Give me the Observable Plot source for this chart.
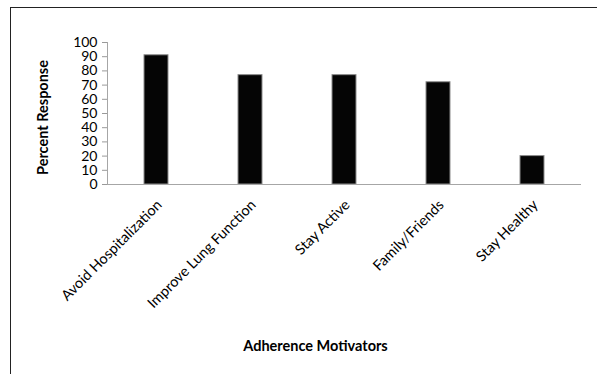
<!DOCTYPE html>
<html>
<head>
<meta charset="utf-8">
<script src="https://cdn.jsdelivr.net/npm/d3@7"></script>
<script src="https://cdn.jsdelivr.net/npm/@observablehq/plot@0.6"></script>
<style>
  html, body { margin: 0; padding: 0; background: #fff; overflow: hidden; }
  #wrap { position: relative; width: 597px; height: 374px; }
  #border {
    position: absolute; left: 10px; top: 7px; width: 620px; height: 400px;
    border-left: 1.5px solid #222; border-top: 1.5px solid #222;
    box-sizing: border-box; pointer-events: none;
  }
  #chart { position: absolute; left: 0; top: 0; }
</style>
</head>
<body>
<div id="wrap">
  <div id="chart"></div>
  <div id="border"></div>
</div>
<script>
// Adherence motivators and the share of respondents citing each
const motivators = ["Avoid Hospitalization", "Improve Lung Function", "Stay Active", "Family/Friends", "Stay Healthy"];
const percents = [91, 77, 77, 72, 20];
const yTicks = [0, 10, 20, 30, 40, 50, 60, 70, 80, 90, 100];

const rows = motivators.map((m, i) => ({motivator: m, percent: percents[i]}));

const font = "Lato, 'Open Sans', sans-serif";

const chart = Plot.plot({
  width: 597,
  height: 374,
  marginLeft: 107,
  marginRight: 16,
  marginTop: 42,
  marginBottom: 190,
  style: {fontFamily: font, fontSize: "14px", color: "#000", background: "transparent"},
  x: {domain: motivators, paddingInner: 0.75, paddingOuter: 0.375, label: null},
  y: {domain: [0, 100], label: null},
  marks: [
    Plot.axisY({ticks: yTicks, tickSize: 5, tickPadding: 5, stroke: "#999", fill: "#000", label: null, tickFormat: d => String(d)}),
    Plot.axisX({tickSize: 0, tickRotate: -45, tickPadding: 18, dx: 3, fontSize: 14.5, fill: "#000", label: null}),
    Plot.frame({anchor: "left", stroke: "#a6a6a6"}),
    Plot.barY(rows, {x: "motivator", y: "percent", fill: "#050505", stroke: "#8c8c8c", strokeWidth: 1}),
    Plot.ruleY([0], {stroke: "#a6a6a6"}),
    Plot.text(["Percent Response"], {frameAnchor: "left", textAnchor: "middle", lineAnchor: "middle", dx: -64, dy: 4, rotate: -90, fontWeight: "bold", fontSize: 14.5, fill: "#000"}),
    Plot.text(["Adherence Motivators"], {frameAnchor: "bottom", textAnchor: "middle", lineAnchor: "middle", dx: -29, dy: 162, fontWeight: "bold", fontSize: 14.5, fill: "#000"})
  ]
});
document.getElementById("chart").appendChild(chart);
</script>
</body>
</html>
